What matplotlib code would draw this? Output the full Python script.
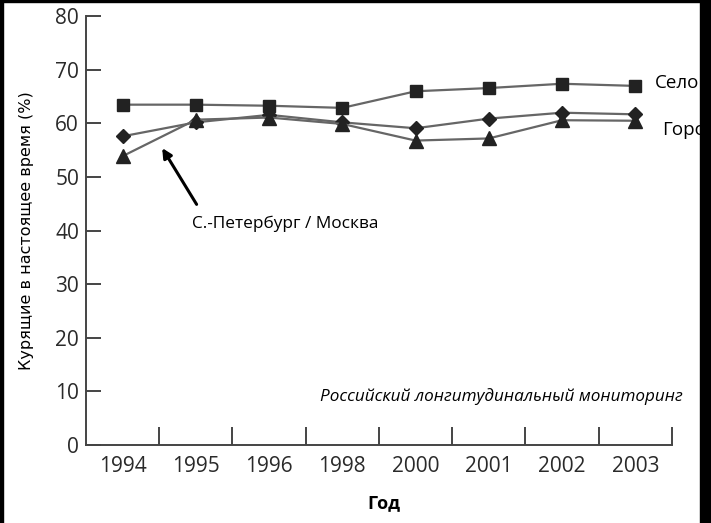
import numpy as np
import matplotlib.pyplot as plt
from matplotlib.patches import Rectangle

# data
years = ['1994', '1995', '1996', '1998', '2000', '2001', '2002', '2003']
selo = [63.5, 63.5, 63.3, 62.9, 66.0, 66.6, 67.4, 67.0]      # squares
gorod = [57.6, 60.2, 61.6, 60.2, 59.1, 60.9, 62.0, 61.7]     # diamonds
spb_msk = [53.9, 60.7, 61.1, 59.9, 56.8, 57.2, 60.6, 60.5]   # triangles

x = np.arange(len(years))

fig = plt.figure(figsize=(7.11, 5.23), dpi=100)
ax = fig.add_axes([0.121, 0.149, 0.824, 0.82])

line_col = '#666666'
mark_col = '#222222'
ax.plot(x, selo, color=line_col, lw=1.6, marker='s', ms=9,
        mfc=mark_col, mec=mark_col, zorder=3)
ax.plot(x, gorod, color=line_col, lw=1.6, marker='D', ms=7,
        mfc=mark_col, mec=mark_col, zorder=3)
ax.plot(x, spb_msk, color=line_col, lw=1.6, marker='^', ms=9.5,
        mfc=mark_col, mec=mark_col, zorder=3)

ax.set_xlim(-0.5, len(years) - 0.5)
ax.set_ylim(0, 80)

# axes look
for s in ['top', 'right']:
    ax.spines[s].set_visible(False)
for s in ['left', 'bottom']:
    ax.spines[s].set_color('#444444')
    ax.spines[s].set_linewidth(1.4)

ax.set_yticks(np.arange(0, 81, 10))
ax.tick_params(axis='y', direction='in', length=11, width=1.4, color='#444444',
               pad=5, labelsize=15, labelcolor='#2a2a2a')
for lab in ax.get_yticklabels():
    lab.set_family('Open Sans')

# x ticks sit at category boundaries, labels at centres
ax.set_xticks(np.arange(0.5, len(years)), minor=False)
ax.set_xticklabels([])
ax.set_xticks(x, minor=True)
ax.set_xticklabels(years, minor=True, family='Open Sans')
ax.tick_params(axis='x', which='major', direction='in', length=13, width=1.4,
               color='#444444')
ax.tick_params(axis='x', which='minor', length=0, pad=8, labelsize=15,
               labelcolor='#2a2a2a')

ax.set_ylabel('Курящие в настоящее время (%)', fontsize=11.5,
              family='DejaVu Sans')
ax.yaxis.set_label_coords(-0.088, 0.5)
ax.set_xlabel('Год', fontsize=13, fontweight='bold', family='Open Sans')
ax.xaxis.set_label_coords(0.508, -0.115)

# labels and annotation
ax.text(7.27, selo[-1] + 0.6, 'Село', fontsize=13.5, family='Open Sans',
        ha='left', va='center')
ax.text(7.36, 58.7, 'Город', fontsize=13.5, family='Open Sans',
        ha='left', va='center')
ax.text(0.95, 41.2, 'С.-Петербург / Москва', fontsize=12.4,
        family='Open Sans', ha='left', va='center')
ax.annotate('', xy=(0.54, 55.4), xytext=(1.01, 44.9),
            arrowprops=dict(arrowstyle='-|>', color='black', lw=2.2,
                            mutation_scale=14, shrinkA=0, shrinkB=0))
ax.text(2.7, 9.0, 'Российский лонгитудинальный мониторинг', fontsize=12.3,
        style='italic', family='Open Sans', ha='left', va='center')

# black frame strips of the original screenshot
fig.patches.append(Rectangle((0, 0), 3 / 711, 1, transform=fig.transFigure,
                             color='black', zorder=10))
fig.patches.append(Rectangle((0, 1 - 2 / 523), 1, 2 / 523,
                             transform=fig.transFigure, color='black', zorder=10))
fig.patches.append(Rectangle((700 / 711, 0), 11 / 711, 1,
                             transform=fig.transFigure, color='black', zorder=10))

fig.savefig('out.png', dpi=100)
